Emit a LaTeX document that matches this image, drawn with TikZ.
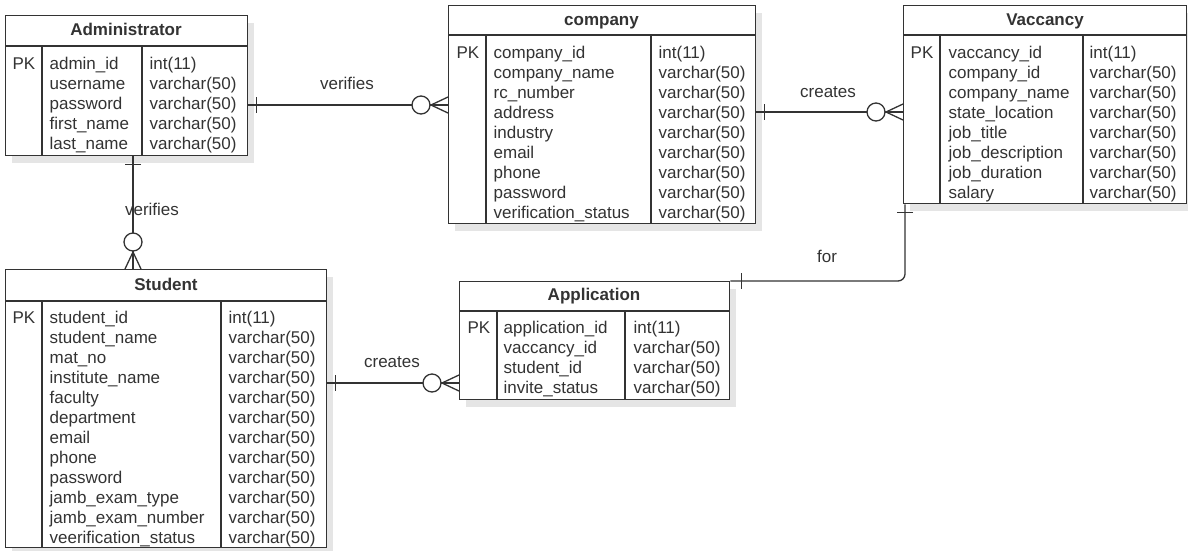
\documentclass[tikz,border=0pt]{standalone}
\usepackage{fontspec}
\setmainfont{Liberation Sans}
\usetikzlibrary{shadows}

\begin{document}
\begin{tikzpicture}[x=1pt, y=-1pt, line width=1.3pt, color=black!80, inner sep=0pt,
    font=\fontsize{17}{20}\selectfont,
    entity/.style={draw, fill=white, anchor=north west,
      drop shadow={shadow xshift=6pt, shadow yshift=-7pt, fill=black!20, opacity=.5}},
    etitle/.style={anchor=base, font=\fontsize{17}{20}\selectfont\bfseries},
    pkey/.style={anchor=base west},
    fields/.style={anchor=north west, align=left},
    rlabel/.style={anchor=base},
    onebar/.pic={\draw (8,-8) -- (8,8);},
    zeromany/.pic={\draw (-17,0) -- (0,-8) (-17,0) -- (0,0) (-17,0) -- (0,8);
      \draw[fill=white] (-27,0) circle (9pt);}]
    \useasboundingbox (0,0) rectangle (1188,550);

    % Administrator
    \node[entity, minimum width=242pt, minimum height=140pt] (admin) at (5,15) {};
    \draw (5,46) -- (247,46) (42,46) -- (42,155) (142,46) -- (142,155);
    \node[etitle] (admintitle) at (126,35) {Administrator};
    \node[pkey] (adminpk) at (12,69) {PK};
    \node[fields] (adminname) at (49,57) {admin\_id\\username\\password\\first\_name\\last\_name};
    \node[fields] (admintype) at (149,57) {int(11)\\varchar(50)\\varchar(50)\\varchar(50)\\varchar(50)};

    % company
    \node[entity, minimum width=307pt, minimum height=218pt] (company) at (448,5) {};
    \draw (448,35) -- (755,35) (486,35) -- (486,223) (651,35) -- (651,223);
    \node[etitle] (companytitle) at (601.5,25) {company};
    \node[pkey] (companypk) at (456,58) {PK};
    \node[fields] (companyname) at (493,46) {company\_id\\company\_name\\rc\_number\\address\\industry\\email\\phone\\password\\verification\_status};
    \node[fields] (companytype) at (658,46) {int(11)\\varchar(50)\\varchar(50)\\varchar(50)\\varchar(50)\\varchar(50)\\varchar(50)\\varchar(50)\\varchar(50)};

    % Vaccancy
    \node[entity, minimum width=283pt, minimum height=198pt] (vaccancy) at (903,5) {};
    \draw (903,35) -- (1186,35) (940,35) -- (940,203) (1083,35) -- (1083,203);
    \node[etitle] (vaccancytitle) at (1045,25) {Vaccancy};
    \node[pkey] (vaccancypk) at (910,58) {PK};
    \node[fields] (vaccancyname) at (948,46) {vaccancy\_id\\company\_id\\company\_name\\state\_location\\job\_title\\job\_description\\job\_duration\\salary};
    \node[fields] (vaccancytype) at (1089,46) {int(11)\\varchar(50)\\varchar(50)\\varchar(50)\\varchar(50)\\varchar(50)\\varchar(50)\\varchar(50)};

    % Application
    \node[entity, minimum width=270pt, minimum height=118pt] (application) at (459,281) {};
    \draw (459,311) -- (729,311) (497,311) -- (497,399) (625,311) -- (625,399);
    \node[etitle] (applicationtitle) at (594,300) {Application};
    \node[pkey] (applicationpk) at (467,333) {PK};
    \node[fields] (applicationname) at (503,321) {application\_id\\vaccancy\_id\\student\_id\\invite\_status};
    \node[fields] (applicationtype) at (633,321) {int(11)\\varchar(50)\\varchar(50)\\varchar(50)};

    % Student
    \node[entity, minimum width=321pt, minimum height=278pt] (student) at (5,269) {};
    \draw (5,301) -- (326,301) (42,301) -- (42,547) (221,301) -- (221,547);
    \node[etitle] (studenttitle) at (166,290) {Student};
    \node[pkey] (studentpk) at (12,323) {PK};
    \node[fields] (studentname) at (49,311) {student\_id\\student\_name\\mat\_no\\institute\_name\\faculty\\department\\email\\phone\\password\\jamb\_exam\_type\\jamb\_exam\_number\\veerification\_status};
    \node[fields] (studenttype) at (228,311) {int(11)\\varchar(50)\\varchar(50)\\varchar(50)\\varchar(50)\\varchar(50)\\varchar(50)\\varchar(50)\\varchar(50)\\varchar(50)\\varchar(50)\\varchar(50)};

    % relationships
    \draw (admin.east |- 0,105) pic{onebar} -- (company.west |- 0,105) pic{zeromany};
    \draw (company.east |- 0,112) pic{onebar} -- (vaccancy.west |- 0,112) pic{zeromany};
    \draw (admin.south -| 133,0) pic[rotate=-90]{onebar} -- (student.north -| 133,0) pic[rotate=-90]{zeromany};
    \draw (student.east |- 0,383) pic{onebar} -- (application.west |- 0,383) pic{zeromany};
    \draw[rounded corners=7pt] (vaccancy.south -| 905,0) pic[rotate=-90]{onebar} |- (application.north east) pic[xshift=3pt]{onebar};

    \node[rlabel] (verifiesA) at (347,89) {verifies};
    \node[rlabel] (verifiesB) at (152,215) {verifies};
    \node[rlabel] (createsA) at (828,97) {creates};
    \node[rlabel] (forlabel) at (827,262) {for};
    \node[rlabel] (createsB) at (392,367) {creates};
\end{tikzpicture}
\end{document}
